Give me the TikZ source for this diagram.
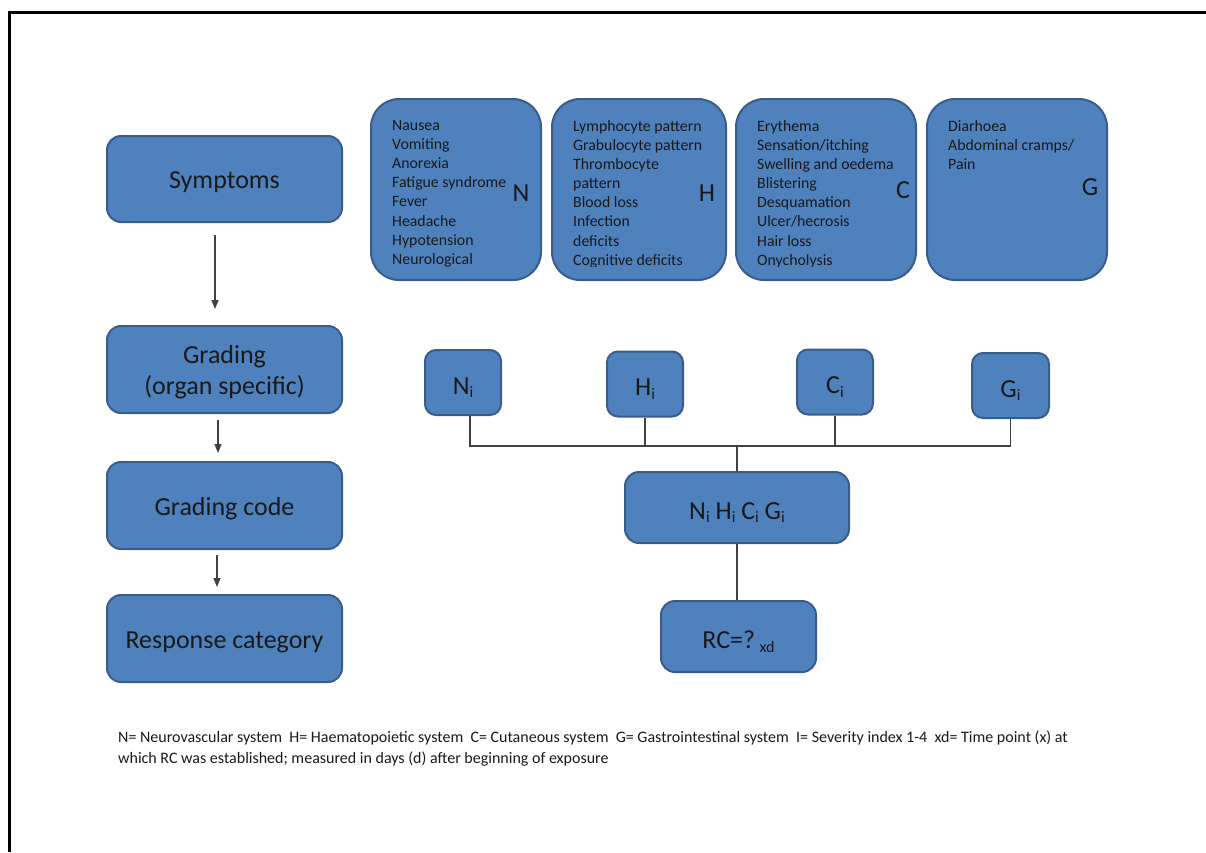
\documentclass[tikz,border=0pt]{standalone}
\usepackage{fontspec}
\setmainfont{Carlito}
\usetikzlibrary{arrows.meta,calc}
\definecolor{boxfill}{HTML}{4F81BD}
\definecolor{boxline}{HTML}{385D8A}
\definecolor{conn}{HTML}{404040}
\newcommand{\lowi}[1]{\raisebox{-3.5pt}[\height][0pt]{\fontsize{16}{16}\selectfont #1}}
\newcommand{\dn}[1]{\raisebox{-3.5pt}[\height][\depth]{#1}}
\begin{document}
\begin{tikzpicture}[x=1pt,y=-1pt,
 box/.style={draw=boxline, line width=2pt, fill=boxfill, rounded corners=14pt, inner sep=0pt, text=black!90, font=\fontsize{26}{31}\selectfont, align=center},
 bigbox/.style={box, rounded corners=28pt},
 list/.style={anchor=north west, inner sep=0pt, align=left, text=black!90, font=\fontsize{15.8}{19.15}\selectfont},
 tag/.style={inner sep=0pt, text=black!90, font=\fontsize{26}{30}\selectfont},
 link/.style={draw=conn, line width=1.2pt},
 flow/.style={draw=black!75, line width=1.2pt, -{Triangle[length=9pt,width=7pt]}}
]
\useasboundingbox (0,0) rectangle (1206,852);
\draw[line width=3pt] (1206,12) -- (9,12) -- (9,852);

% left column
\node[box, minimum width=235pt, minimum height=86pt] (symp) at (224.5,179) {\dn{Symptoms}};
\node[box, minimum width=235pt, minimum height=87pt] (grad) at (224.5,369.5) {\dn{\begin{tabular}{@{}c@{}}Grading\\(organ specific)\end{tabular}}};
\node[box, minimum width=235pt, minimum height=87pt] (gcode) at (224.5,505.5) {\dn{Grading code}};
\node[box, minimum width=235pt, minimum height=87pt] (resp) at (224.5,638.5) {\dn{Response category}};

\coordinate (a1s) at (215,235); \coordinate (a1e) at (215,309);
\coordinate (a2s) at (218,420); \coordinate (a2e) at (218,453);
\coordinate (a3s) at (217,555); \coordinate (a3e) at (217,587);
\draw[flow] (a1s) -- (a1e);
\draw[flow] (a2s) -- (a2e);
\draw[flow] (a3s) -- (a3e);

% organ boxes
\node[bigbox, minimum width=170pt, minimum height=181pt] (bN) at (456,189.5) {};
\node[bigbox, minimum width=174pt, minimum height=181pt] (bH) at (639,189.5) {};
\node[bigbox, minimum width=180pt, minimum height=181pt] (bC) at (826,189.5) {};
\node[bigbox, minimum width=180pt, minimum height=181pt] (bG) at (1017,189.5) {};

\begin{scope}
\clip (360,100) rectangle (1110,266.5);
\node[list] (lN) at (392,120) {Nausea\\Vomiting\\Anorexia\\Fatigue syndrome\\Fever\\Headache\\Hypotension\\Neurological};
\node[list] (lH) at (573,120) {Lymphocyte pattern\\Grabulocyte pattern\\Thrombocyte\\pattern\\Blood loss\\Infection\\deficits\\Cognitive deficits};
\node[list] (lC) at (757,120) {Erythema\\Sensation/itching\\Swelling and oedema\\Blistering\\Desquamation\\Ulcer/hecrosis\\Hair loss\\Onycholysis};
\node[list] (lG) at (948,120) {Diarhoea\\Abdominal cramps/\\Pain};
\end{scope}

\node[tag] (tN) at (521,193) {N};
\node[tag] (tH) at (707,193) {H};
\node[tag] (tC) at (903,190) {C};
\node[tag] (tG) at (1090,187) {G};

% grades
\node[box, rounded corners=11pt, minimum width=76pt, minimum height=65pt] (Ni) at (463,382.5) {\dn{N\lowi{i}}};
\node[box, rounded corners=11pt, minimum width=76pt, minimum height=65pt] (Hi) at (645,384) {\dn{H\lowi{i}}};
\node[box, rounded corners=11pt, minimum width=76pt, minimum height=65pt] (Ci) at (835,382) {\dn{C\lowi{i}}};
\node[box, rounded corners=11pt, minimum width=77pt, minimum height=65pt] (Gi) at (1010.5,385.5) {\dn{G\lowi{i}}};

\node[box, minimum width=224pt, minimum height=71pt] (code) at (737,507.5) {\dn{N\lowi{i} H\lowi{i} C\lowi{i} G\lowi{i}}};
\node[box, minimum width=155pt, minimum height=71pt] (rc) at (738.5,636.5) {\dn{RC=?\,\lowi{xd}}};

\coordinate (bus) at (739,446);
\draw[link] ([xshift=7pt]Ni.south) -- ([xshift=7pt]Ni.south |- bus) -- (Gi.south |- bus) -- (Gi.south);
\draw[link] (Hi.south) -- (Hi.south |- bus);
\draw[link] (Ci.south) -- (Ci.south |- bus);
\draw[link] (code.north |- bus) -- (code.north);
\draw[link] (code.south) -- (code.south |- rc.north);

\node[anchor=north west, inner sep=0pt, align=left, text=black!90, font=\fontsize{16}{20.5}\selectfont] (note) at (118,731)
 {N= Neurovascular system\ \ H= Haematopoietic system\ \ C= Cutaneous system\ \ G= Gastrointestinal system\ \ I= Severity index 1-4\ \ xd= Time point (x) at\\which RC was established; measured in days (d) after beginning of exposure};
\end{tikzpicture}
\end{document}
